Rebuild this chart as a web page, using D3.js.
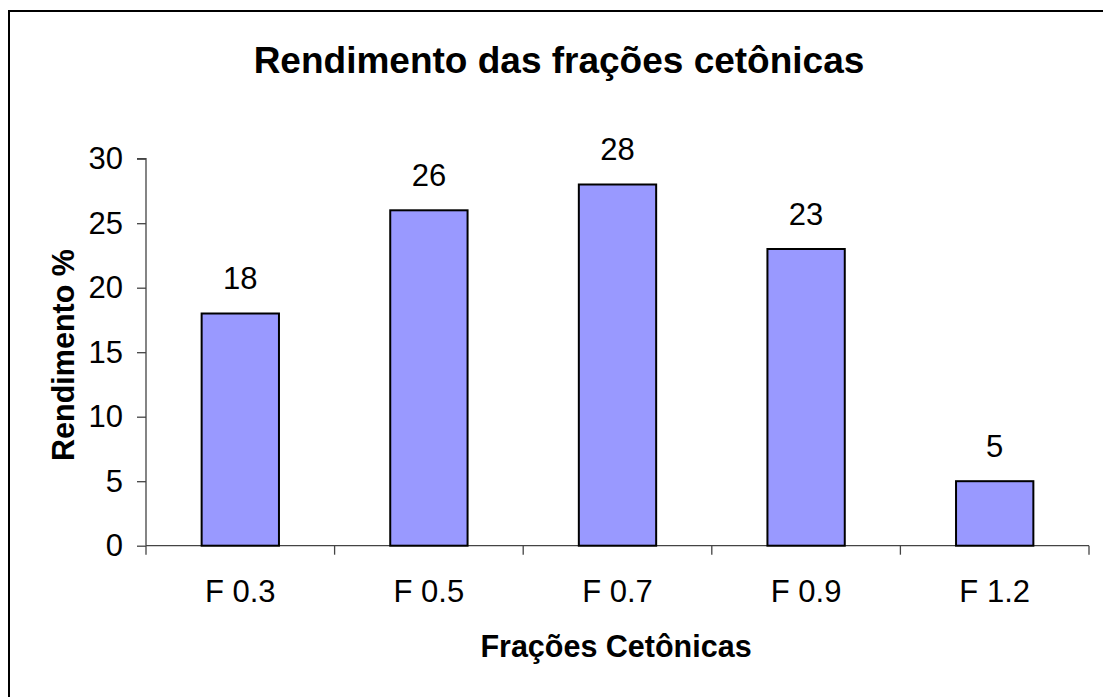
<!DOCTYPE html>
<html>
<head>
<meta charset="utf-8">
<script src="https://cdn.jsdelivr.net/npm/d3@7"></script>
<style>
  html, body { margin: 0; padding: 0; background: #fff; }
  svg { display: block; }
  text { font-family: "Liberation Sans", Arial, sans-serif; fill: #000; }
</style>
</head>
<body>
<svg id="chart" width="1103" height="697"></svg>
<script>
const categories = ["F 0.3", "F 0.5", "F 0.7", "F 0.9", "F 1.2"];
const values = [18, 26, 28, 23, 5];
const yTicks = [0, 5, 10, 15, 20, 25, 30];
const title = "Rendimento das frações cetônicas";
const xTitle = "Frações Cetônicas";
const yTitle = "Rendimento %";

const svg = d3.select("#chart");
const W = 1103, H = 697;

// outer frame
svg.append("rect")
  .attr("x", 9).attr("y", 11)
  .attr("width", W + 20).attr("height", H + 20)
  .attr("fill", "#fff").attr("stroke", "#000").attr("stroke-width", 2);

const plot = { left: 146, right: 1089, top: 158.7, bottom: 545.7 };

const x = d3.scaleBand().domain(categories)
  .range([plot.left, plot.right]).paddingInner(0).paddingOuter(0);
const y = d3.scaleLinear().domain([0, 30]).range([plot.bottom, plot.top]);

// title
svg.append("text")
  .attr("x", 559).attr("y", 73)
  .attr("text-anchor", "middle")
  .attr("font-size", 37).attr("font-weight", "bold")
  .text(title);

// y axis
const yAxis = d3.axisLeft(y).tickValues(yTicks).tickSize(9).tickPadding(14);
const gy = svg.append("g").attr("transform", `translate(${plot.left},0)`).call(yAxis);
gy.select(".domain").attr("stroke", "#444").attr("stroke-width", 1.3)
  .attr("d", `M-9,${plot.top}H0V${plot.bottom}`);
gy.selectAll(".tick line").attr("stroke", "#444").attr("stroke-width", 1.3);
gy.selectAll(".tick text").attr("font-size", 31).attr("font-family", "Liberation Sans, Arial, sans-serif")
  .attr("dy", "0.32em").attr("fill", "#000");

// x axis: line + ticks at band boundaries
const boundaries = categories.map(c => x(c)).concat([x.range()[1]]);
svg.append("line")
  .attr("x1", plot.left).attr("x2", plot.right)
  .attr("y1", plot.bottom).attr("y2", plot.bottom)
  .attr("stroke", "#444").attr("stroke-width", 1.3);
svg.selectAll(".xtick").data(boundaries).enter().append("line")
  .attr("class", "xtick")
  .attr("x1", d => d).attr("x2", d => d)
  .attr("y1", plot.bottom).attr("y2", plot.bottom + 9)
  .attr("stroke", "#444").attr("stroke-width", 1.3);

svg.selectAll(".xlabel").data(categories).enter().append("text")
  .attr("class", "xlabel")
  .attr("x", d => x(d) + x.bandwidth() / 2)
  .attr("y", 602)
  .attr("text-anchor", "middle")
  .attr("font-size", 31)
  .text(d => d);

// bars
const barW = x.bandwidth() * 0.41;
svg.selectAll(".bar").data(values).enter().append("rect")
  .attr("class", "bar")
  .attr("x", (d, i) => x(categories[i]) + (x.bandwidth() - barW) / 2)
  .attr("y", d => y(d))
  .attr("width", barW)
  .attr("height", d => y(0) - y(d))
  .attr("fill", "#9999FF")
  .attr("stroke", "#000").attr("stroke-width", 2);

// value labels
svg.selectAll(".vlabel").data(values).enter().append("text")
  .attr("class", "vlabel")
  .attr("x", (d, i) => x(categories[i]) + x.bandwidth() / 2)
  .attr("y", d => y(d) - 24.5)
  .attr("text-anchor", "middle")
  .attr("font-size", 31)
  .text(d => d);

// axis titles
svg.append("text")
  .attr("x", 616).attr("y", 657)
  .attr("text-anchor", "middle")
  .attr("font-size", 30.5).attr("font-weight", "bold")
  .text(xTitle);

svg.append("text")
  .attr("transform", "translate(74,355) rotate(-90)")
  .attr("text-anchor", "middle")
  .attr("font-size", 30.5).attr("font-weight", "bold")
  .text(yTitle);
</script>
</body>
</html>
